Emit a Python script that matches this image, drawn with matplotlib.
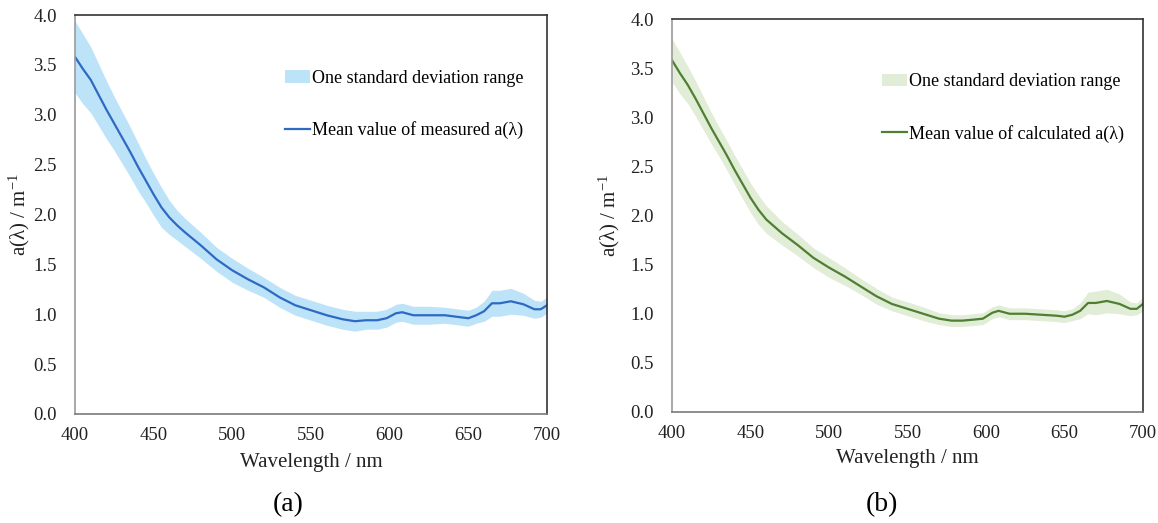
import matplotlib
matplotlib.use("Agg")
import matplotlib.pyplot as plt
import numpy as np

plt.rcParams['font.family'] = ['Liberation Serif', 'DejaVu Serif']
plt.rcParams['mathtext.fontset'] = 'stix'

# wavelength grid (nm)
wl = [400, 405, 410, 415, 420, 425, 430, 435, 440, 445, 450, 455, 460, 465, 470,
      480, 490, 500, 510, 520, 530, 540, 550, 560, 570, 578, 585, 592, 598, 604,
      608, 615, 625, 635, 645, 650, 655, 660, 665, 670, 677, 685, 692, 696, 700]

# (a) measured absorption
meas_mean = [3.58, 3.46, 3.35, 3.20, 3.05, 2.91, 2.77, 2.63, 2.48, 2.34, 2.20, 2.07,
             1.97, 1.89, 1.82, 1.69, 1.55, 1.44, 1.35, 1.27, 1.17, 1.09, 1.04, 0.99,
             0.95, 0.93, 0.94, 0.94, 0.96, 1.01, 1.02, 0.99, 0.99, 0.99, 0.97, 0.96,
             0.99, 1.03, 1.11, 1.11, 1.13, 1.10, 1.05, 1.05, 1.09]
meas_std = [0.36, 0.35, 0.33, 0.31, 0.29, 0.27, 0.26, 0.25, 0.24, 0.22, 0.21, 0.20,
            0.17, 0.15, 0.14, 0.13, 0.12, 0.12, 0.11, 0.10, 0.10, 0.10, 0.10, 0.10,
            0.10, 0.10, 0.09, 0.09, 0.09, 0.09, 0.09, 0.09, 0.09, 0.08, 0.08, 0.08,
            0.08, 0.10, 0.13, 0.13, 0.13, 0.11, 0.09, 0.08, 0.08]

# (b) calculated absorption
calc_mean = [3.58, 3.45, 3.33, 3.19, 3.04, 2.89, 2.75, 2.61, 2.46, 2.32, 2.18, 2.06,
             1.96, 1.89, 1.82, 1.70, 1.57, 1.47, 1.38, 1.28, 1.18, 1.10, 1.05, 1.00,
             0.95, 0.93, 0.93, 0.94, 0.95, 1.01, 1.03, 1.00, 1.00, 0.99, 0.98, 0.97,
             0.99, 1.03, 1.11, 1.11, 1.13, 1.10, 1.05, 1.05, 1.10]
calc_std = [0.22, 0.21, 0.19, 0.18, 0.17, 0.16, 0.15, 0.15, 0.15, 0.15, 0.15, 0.15,
            0.14, 0.13, 0.12, 0.11, 0.10, 0.10, 0.09, 0.08, 0.08, 0.07, 0.07, 0.07,
            0.06, 0.06, 0.06, 0.06, 0.06, 0.06, 0.06, 0.06, 0.06, 0.06, 0.06, 0.06,
            0.06, 0.08, 0.11, 0.12, 0.12, 0.10, 0.07, 0.06, 0.07]

W, H = 1158, 523
fig = plt.figure(figsize=(W / 100, H / 100), dpi=100)


def panel(rect, mean, std, fill_c, line_c, label_mean, tag, tag_x, ylab_x, xlab_y):
    ax = fig.add_axes(rect)
    m = np.array(mean)
    s = np.array(std)
    ax.fill_between(wl, m - s, m + s, color=fill_c, lw=0, label='One standard deviation range')
    ax.plot(wl, m, color=line_c, lw=1.6, label=label_mean)
    ax.set_xlim(400, 700)
    ax.set_ylim(0, 4)
    ax.set_xticks(range(400, 701, 50))
    ax.set_yticks(np.arange(0, 4.01, 0.5))
    ax.yaxis.set_major_formatter(matplotlib.ticker.FormatStrFormatter('%.1f'))
    ax.tick_params(length=0, labelsize=13.5, colors='#222222')
    ax.tick_params(axis='y', pad=13)
    ax.tick_params(axis='x', pad=9)
    ax.spines['left'].set_color('#9a9a9a')
    ax.spines['bottom'].set_color('#7a7a7a')
    ax.spines['top'].set_color('#333333')
    ax.spines['right'].set_color('#333333')
    for sp in ax.spines.values():
        sp.set_linewidth(1.2)
    ax.set_xlabel('Wavelength / nm', fontsize=15, color='#222222')
    ax.set_ylabel(r'a(λ) / m$^{\mathregular{-1}}$', fontsize=15, color='#222222')
    ax.yaxis.set_label_coords(ylab_x, 0.5)
    ax.xaxis.set_label_coords(0.5, xlab_y)
    ax.legend(loc='upper left', bbox_to_anchor=(0.43, 0.88), frameon=False,
              fontsize=13, handlelength=1.4, handletextpad=0.1, labelspacing=1.9,
              borderaxespad=0)
    fig.text(tag_x, 1 - 505 / H, tag, fontsize=20, ha='center', va='center')
    return ax


panel([75 / W, (H - 414) / H, 472 / W, 399 / H], meas_mean, meas_std,
      '#bde3f8', '#2e6ac4', 'Mean value of measured a(λ)', '(a)', 288 / W, -0.091, -0.098)
panel([672 / W, (H - 412) / H, 471 / W, 393 / H], calc_mean, calc_std,
      '#e1edd6', '#4e7f32', 'Mean value of calculated a(λ)', '(b)', 882 / W, -0.106, -0.094)

fig.savefig('out.png', dpi=100)
